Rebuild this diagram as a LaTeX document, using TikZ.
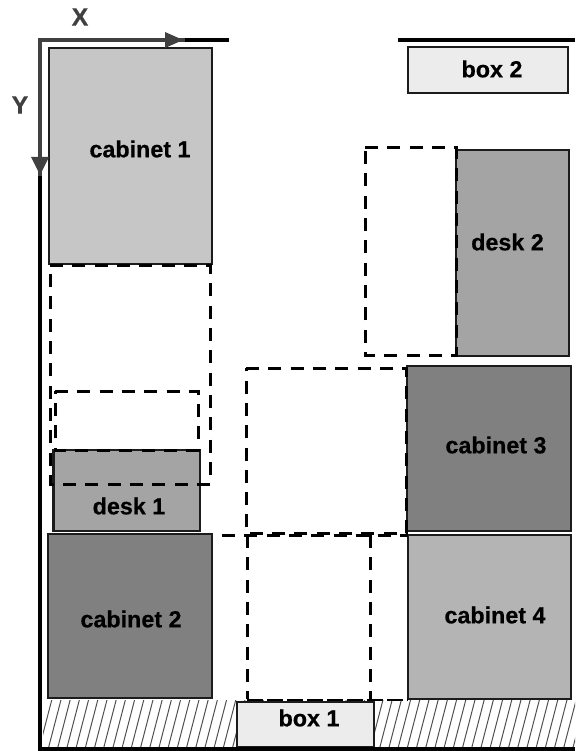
\documentclass[tikz,border=0pt]{standalone}
\usepackage{fontspec}
\setmainfont[BoldFeatures={FakeBold=0.5}]{Liberation Sans}
\definecolor{axisgrey}{HTML}{404040}
\definecolor{edgegrey}{HTML}{1c1c1c}
\definecolor{hatchgrey}{HTML}{505050}
\definecolor{cabfill}{HTML}{C6C6C6}
\definecolor{darkfill}{HTML}{808080}
\definecolor{midfill}{HTML}{A4A4A4}
\definecolor{cabfour}{HTML}{B4B4B4}
\definecolor{boxfill}{HTML}{ECECEC}
\tikzset{
  obj/.style={draw=edgegrey,line width=2.2pt},
  ghostline/.style={draw=black,line width=3pt,dash pattern=on 13pt off 9.3pt},
  lab/.style={font=\bfseries\fontsize{23.3}{25}\selectfont,text=black,inner sep=0pt},
  axlab/.style={font=\bfseries\fontsize{25}{27}\selectfont,text=axisgrey,inner sep=0pt},
  axisline/.style={draw=axisgrey,line width=3.4pt},
  wall/.style={draw=black,line width=3.4pt},
  hatch/.style={draw=hatchgrey,line width=1pt},
}
\begin{document}
\begin{tikzpicture}[x=1pt,y=-1pt]
\useasboundingbox (0,0) rectangle (575,751);
\coordinate (o) at (40,40);
\coordinate (xtip) at (183,40);
\coordinate (xend) at (229,40);
\coordinate (ytip) at (40,174);
\coordinate (yend) at (40,749);
\coordinate (bend) at (575,749);
\coordinate (wl) at (398,40);
\coordinate (wr) at (575,40);
% hatched floor
\begin{scope}
\clip (43,700) rectangle (575,748);
\foreach \i in {0,...,60}{
  \draw[hatch] ({52+9.2*\i},699) -- ({39+9.2*\i},749);
}
\end{scope}
% solid objects
\draw[obj,fill=cabfill] (49,48) rectangle (212,264);
\draw[obj,fill=darkfill] (48,534) rectangle (212,698);
\draw[obj,fill=midfill] (53.5,450) rectangle (200,531);
\draw[obj,fill=darkfill] (407,366) rectangle (571,531);
\draw[obj,fill=cabfour] (408,535) rectangle (571,699);
\draw[obj,fill=midfill] (456,150) rectangle (569,356);
\draw[obj,fill=boxfill] (408,47) rectangle (568,93);
\draw[obj,fill=boxfill] (237,702) rectangle (374,747);
% dashed outlines
\draw[ghostline] (50,265) -- (210,265) -- (210,484) -- (50,484) -- cycle;
\draw[ghostline] (55,391) -- (198,391) -- (198,450) -- (55,450) -- cycle;
\draw[ghostline] (365,148) -- (456,148) -- (456,355) -- (365,355) -- cycle;
\draw[ghostline] (246,368) -- (406,368) -- (406,533) -- (246,533) -- cycle;
\draw[ghostline] (247,535) -- (247,699);
\draw[ghostline] (370,535) -- (370,699);
\draw[ghostline] (222,535) -- (408,535);
\draw[draw=black,line width=1.5pt,dash pattern=on 16pt off 4pt] (247,700) -- (408,700);
% axes and walls
\draw[wall] (xtip) -- (xend);
\draw[wall] (wl) -- (wr);
\draw[wall] (ytip) -- (yend) -- (bend);
\draw[axisline,line cap=rect] (xtip) -- (o) -- (ytip);
\fill[axisgrey] (183,40) -- (165,32) -- (165,48) -- cycle;
\fill[axisgrey] (40,175) -- (31,157) -- (49,157) -- cycle;
% labels
\node[lab] (cab1) at (140,149) {cabinet 1};
\node[lab] (cab2) at (131,619) {cabinet 2};
\node[lab] (cab3) at (496,445) {cabinet 3};
\node[lab] (cab4) at (495,615) {cabinet 4};
\node[lab] (d1) at (129,506) {desk 1};
\node[lab] (d2) at (507.5,242) {desk 2};
\node[lab] (b1) at (309,718) {box 1};
\node[lab] (b2) at (492,69) {box 2};
\node[axlab] (xl) at (80,17) {X};
\node[axlab] (yl) at (20,105) {Y};
\end{tikzpicture}
\end{document}
